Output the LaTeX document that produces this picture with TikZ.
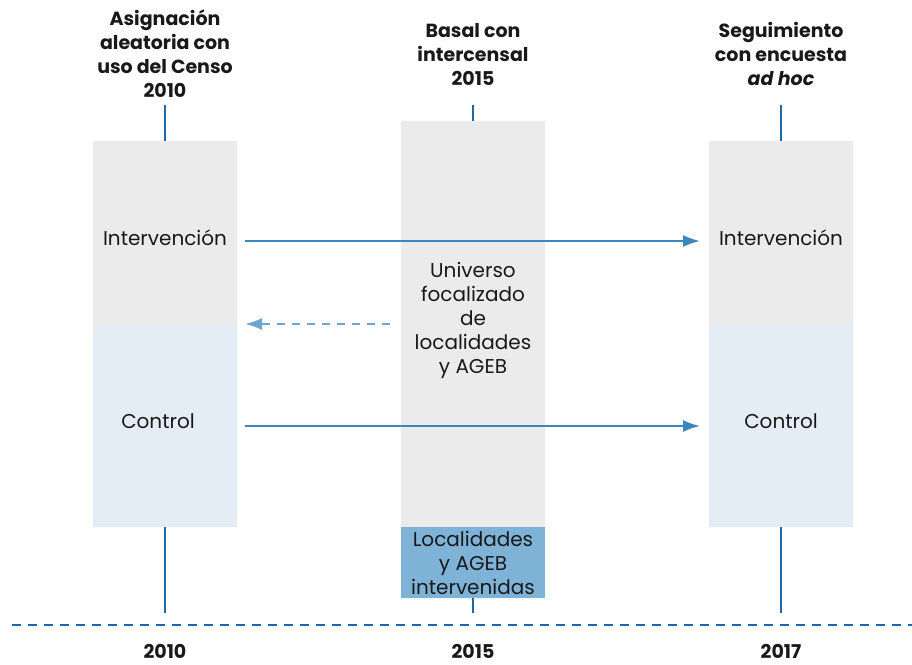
\documentclass[tikz,border=0pt]{standalone}
\usepackage{fontspec}
\setmainfont{Poppins}
\usetikzlibrary{positioning,arrows.meta}
\tikzset{>={Latex[length=17pt,width=12pt]}}
\definecolor{boxgray}{HTML}{EAEBEA}
\definecolor{boxblue}{HTML}{E4ECF5}
\definecolor{midblue}{HTML}{7FB2D7}
\definecolor{lineblue}{HTML}{1A6AAB}
\definecolor{arrowblue}{HTML}{3A87C0}
\definecolor{dashblue}{HTML}{6AA6D0}
\tikzstyle{every node}=[font=\fontsize{20}{24}\selectfont,text=black!90]
\tikzstyle{header}=[align=center,font=\fontsize{19}{24}\selectfont\bfseries]
\tikzstyle{stage}=[draw=none,minimum width=144pt,inner sep=0pt]
\tikzstyle{timeline}=[lineblue,line width=2.5pt]
\tikzstyle{flow}=[->,arrowblue,line width=2pt]

\begin{document}
\begin{tikzpicture}[x=1pt,y=-1pt]
\useasboundingbox (0,0) rectangle (912,664);
% columns
\node (intA) at (165,233) [stage,fill=boxgray,minimum height=184pt] {};
\node (ctlA) at (165,426) [stage,fill=boxblue,minimum height=202pt] {};
\node (univ) at (473,324) [stage,fill=boxgray,minimum height=406pt] {};
\node (loc) at (473,562.5) [stage,fill=midblue,minimum height=71pt,align=center] {Localidades\\y AGEB\\intervenidas};
\node (intC) at (781,233) [stage,fill=boxgray,minimum height=184pt] {};
\node (ctlC) at (781,426) [stage,fill=boxblue,minimum height=202pt] {};
% headers
\node (hA) at (165,54) [header] {Asignación\\aleatoria con\\uso del Censo\\2010};
\node (hB) at (473,54) [header] {Basal con\\intercensal\\2015};
\node (hC) at (781,54) [header] {Seguimiento\\con encuesta\\\textit{ad hoc}};
% labels
\node (lintA) at (165,238) {Intervención};
\node (lctlA) at (158,421) {Control};
\node (lintC) at (781,238) {Intervención};
\node (lctlC) at (781,421) {Control};
\node (luniv) at (473,320) [align=center] {Universo\\focalizado\\de\\localidades\\y AGEB};
% timeline
\coordinate (tA) at (165,613);
\coordinate (tB) at (473,613);
\coordinate (tC) at (781,613);
\draw [timeline] (165,105) -- (intA.north);
\draw [timeline] (473,105) -- (univ.north);
\draw [timeline] (781,105) -- (intC.north);
\draw [timeline] (ctlA.south) -- (tA);
\draw [timeline] (loc.south) -- (tB);
\draw [timeline] (ctlC.south) -- (tC);
\coordinate (dl) at (12,625);
\coordinate (dr) at (912,625);
\draw [lineblue,line width=2.5pt,dash pattern=on 9pt off 7pt] (dl) -- (dr);
\node (yA) at (165,651) [header] {2010};
\node (yB) at (473,651) [header] {2015};
\node (yC) at (781,651) [header] {2017};
% arrows
\coordinate (a1) at (245,241);
\coordinate (a2) at (700,241);
\coordinate (b1) at (245,426);
\coordinate (b2) at (700,426);
\coordinate (c1) at (390,324);
\coordinate (c2) at (245,324);
\draw [flow] (a1) -- (a2);
\draw [flow] (b1) -- (b2);
\draw [->,dashblue,line width=2pt,dash pattern=on 8pt off 7pt] (c1) -- (c2);
\end{tikzpicture}
\end{document}
